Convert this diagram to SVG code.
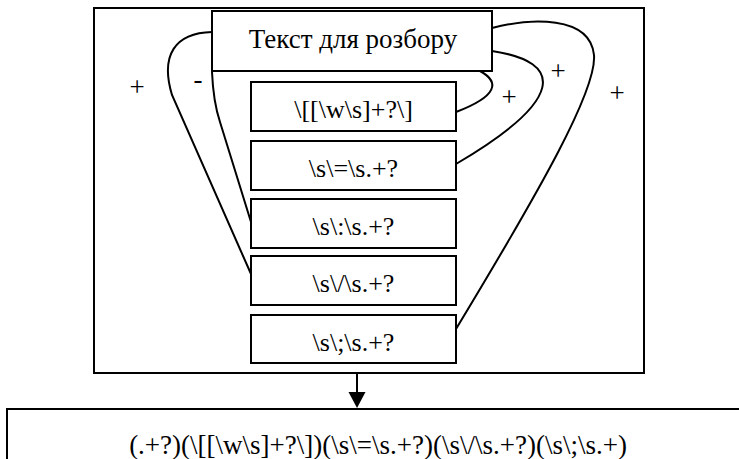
<svg xmlns="http://www.w3.org/2000/svg" width="739" height="459" viewBox="0 0 739 459">
<defs>
<style>
.box{fill:#fff;stroke:#000;stroke-width:2}
.t{font-family:"Liberation Serif","Times New Roman",serif;font-size:26px;fill:#000;text-anchor:middle}
.big{font-size:27px}
.lbl{font-family:"Liberation Serif","Times New Roman",serif;font-size:27px;fill:#000;text-anchor:middle}
.c{fill:none;stroke:#000;stroke-width:2}
</style>
</defs>
<rect width="739" height="459" fill="#fff"/>
<g id="frame"><rect class="box" x="94" y="8" width="550" height="365"/></g>
<g id="connectors">
<path class="c" d="M212,32 C175,33 160,55 172,95 L251,274"/>
<path class="c" d="M212,72 C213,95 216,110 220,122 L251,222"/>
<path class="c" d="M480,71 C500,82 498,96 456,112"/>
<path class="c" d="M492,51 C565,62 565,100 456,164"/>
<path class="c" d="M492,28 C530,18 590,15 594,55 C597,90 540,190 456,329"/>
<line class="c" x1="357" y1="373" x2="357" y2="394"/>
<polygon points="348.5,392 365.5,392 357,408" fill="#000"/>
<text class="lbl" x="137" y="96">+</text>
<text class="lbl" x="198" y="88">-</text>
<text class="lbl" x="558" y="80">+</text>
<text class="lbl" x="509" y="106">+</text>
<text class="lbl" x="617" y="102">+</text>
</g>
<g id="title"><rect class="box" x="212" y="11" width="280" height="60"/><text class="t big" x="353" y="48">Текст для розбору</text></g>
<g id="n1"><rect class="box" x="251" y="82" width="205" height="49"/><text class="t" x="353.5" y="118">\[[\w\s]+?\]</text></g>
<g id="n2"><rect class="box" x="251" y="141" width="205" height="49"/><text class="t" x="353.5" y="177">\s\=\s.+?</text></g>
<g id="n3"><rect class="box" x="251" y="199" width="205" height="49"/><text class="t" x="353.5" y="235">\s\:\s.+?</text></g>
<g id="n4"><rect class="box" x="251" y="256" width="205" height="49"/><text class="t" x="353.5" y="292">\s\/\s.+?</text></g>
<g id="n5"><rect class="box" x="251" y="315" width="205" height="48"/><text class="t" x="353.5" y="351">\s\;\s.+?</text></g>
<g id="result"><rect class="box" x="7" y="409" width="745" height="60"/><text class="t big" x="378" y="454">(.+?)(\[[\w\s]+?\])(\s\=\s.+?)(\s\/\s.+?)(\s\;\s.+)</text></g>
</svg>
